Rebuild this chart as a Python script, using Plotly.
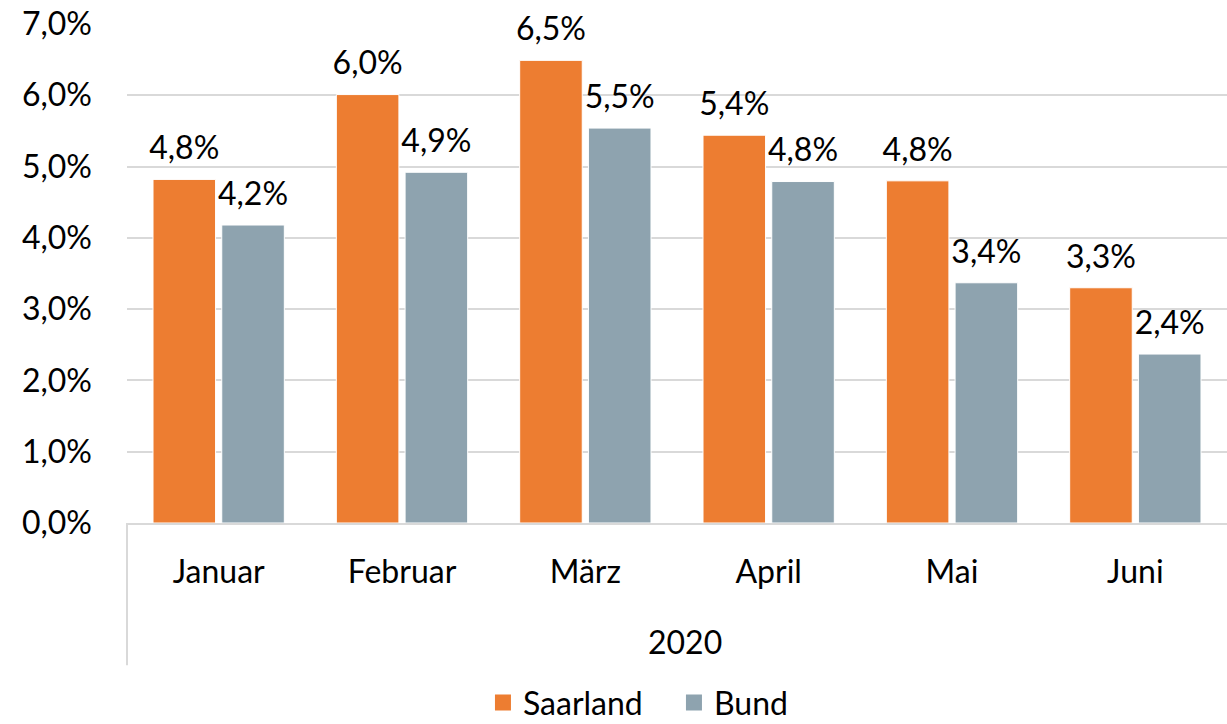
import plotly.graph_objects as go

# Werte je Monat (Anteil, als Bruch)
monate = ["Januar", "Februar", "März", "April", "Mai", "Juni"]
jahr = "2020"
saarland = [0.0482, 0.0601, 0.0649, 0.0544, 0.0480, 0.0330]
bund = [0.0418, 0.0492, 0.0554, 0.0479, 0.0337, 0.0237]
y_ticks = [0, 0.01, 0.02, 0.03, 0.04, 0.05, 0.06, 0.07]

schrift = dict(family="Lato, Noto Sans, sans-serif", size=32, color="#000000")
grau_linie = "#d9d9d9"
orange = "#ED7D31"
grau = "#8EA3AF"
serien = [("Saarland", saarland, orange), ("Bund", bund, grau)]

data = []
for name, werte, farbe in serien:
    data.append(go.Bar(
        x=monate,
        y=werte,
        name=name,
        offsetgroup=name,
        marker=dict(color=farbe, line=dict(color="#ffffff", width=1)),
        showlegend=False,
    ))

# Datenbeschriftungen, etwas mehr Abstand zum Balken als bei textposition='outside'
for name, werte, farbe in serien:
    data.append(go.Scatter(
        x=monate,
        y=werte,
        offsetgroup=name,
        mode="markers+text",
        marker=dict(size=18, opacity=0),
        texttemplate="%{y:.1%}",
        textposition="top center",
        textfont=schrift,
        cliponaxis=False,
        hoverinfo="skip",
        showlegend=False,
    ))

# nur fuer die Legende: groessere quadratische Symbole
for name, werte, farbe in serien:
    data.append(go.Scatter(
        x=[None],
        y=[None],
        mode="markers",
        name=name,
        marker=dict(symbol="square", size=20, color=farbe),
    ))

fig = go.Figure(data=data)
fig.update_layout(
    width=1227,
    height=724,
    barmode="group",
    scattermode="group",
    bargap=0.25,
    scattergap=0.25,
    bargroupgap=0.09,
    separators=",.",
    plot_bgcolor="#ffffff",
    paper_bgcolor="#ffffff",
    font=schrift,
    margin=dict(l=127, r=0, t=24, b=201, autoexpand=False),
    showlegend=True,
    legend=dict(
        orientation="h",
        x=0.3236,
        xanchor="left",
        y=-0.305,
        yanchor="top",
        font=schrift,
        itemwidth=30,
        itemsizing="trace",
        entrywidth=146,
    ),
    # Jahresbeschriftung unter den Monaten
    annotations=[
        dict(
            text=jahr,
            x=0.507,
            y=-0.237,
            xref="paper",
            yref="paper",
            xanchor="center",
            yanchor="middle",
            showarrow=False,
            font=schrift,
        )
    ],
    # Trennlinie links, wie bei Excel-Kategorieachsen
    shapes=[
        dict(
            type="line",
            xref="paper",
            yref="paper",
            x0=0,
            x1=0,
            y0=0,
            y1=-0.285,
            line=dict(color=grau_linie, width=2),
        )
    ],
)
fig.update_yaxes(
    range=[0, 0.07],
    tickvals=y_ticks,
    tickformat=".1%",
    showgrid=True,
    gridcolor=grau_linie,
    gridwidth=2,
    zeroline=False,
    showline=False,
    ticks="",
    ticklabelstandoff=34,
    ticklabeloverflow="allow",
    tickfont=schrift,
    automargin=False,
)
fig.update_xaxes(
    type="category",
    showline=True,
    linecolor=grau_linie,
    linewidth=2,
    ticks="",
    ticklabelstandoff=20,
    tickfont=schrift,
    automargin=False,
)

# Seitenrand des Browsers entfernen, damit die Grafik genau das Fenster fuellt
fig.write_html(
    "out.html",
    config={"displayModeBar": False},
    post_script="document.body.style.margin = '0';",
)
